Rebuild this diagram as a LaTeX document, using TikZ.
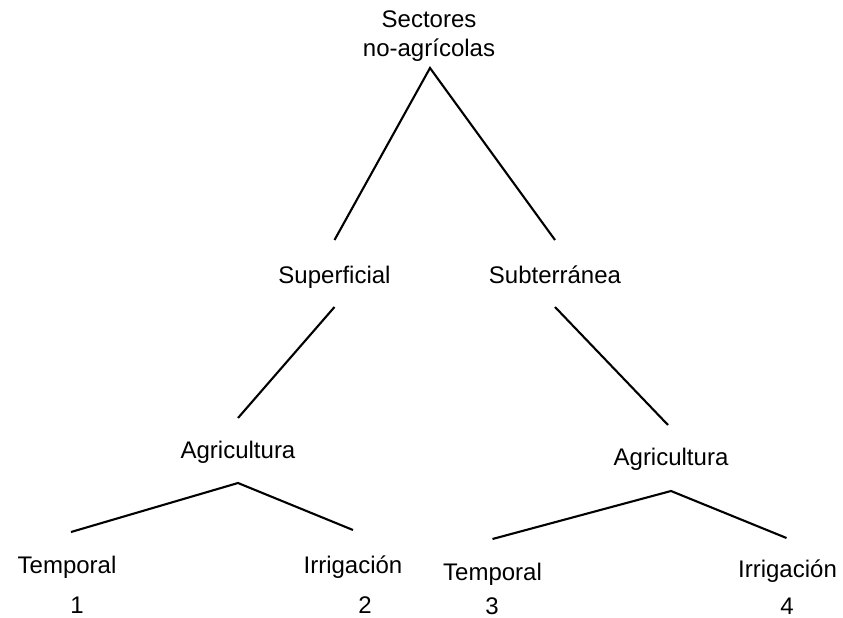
\documentclass[tikz,border=0pt]{standalone}
\usepackage{fontspec}
\setmainfont{Liberation Sans}
\usepackage{tikz}

\begin{document}
\begin{tikzpicture}[x=1pt,y=-1pt,
  lbl/.style={anchor=base,inner sep=0pt,font=\fontsize{24}{29}\selectfont},
  branch/.style={line width=2.1pt}]
\useasboundingbox (0,0) rectangle (843,618);

\node[lbl,align=center] (top) at (429,57) {Sectores\\no-agrícolas};
\node[lbl] (sup) at (334.5,283) {Superficial};
\node[lbl] (sub) at (555,283) {Subterránea};
\node[lbl] (agl) at (238,458) {Agricultura};
\node[lbl] (agr) at (671,465) {Agricultura};
\node[lbl] (tl) at (67,573) {Temporal};
\node[lbl] (il) at (353,573) {Irrigación};
\node[lbl] (tr) at (492.5,580) {Temporal};
\node[lbl] (ir) at (787.5,577) {Irrigación};
\node[lbl] (n1) at (77,613) {1};
\node[lbl] (n2) at (365,613) {2};
\node[lbl] (n3) at (492,614) {3};
\node[lbl] (n4) at (787,614) {4};

\draw[branch] ([yshift=43pt]sup.base)--([xshift=1pt,yshift=-11pt]top.base)--([yshift=43pt]sub.base);
\draw[branch] ([yshift=-24pt]sup.base)--([yshift=40pt]agl.base);
\draw[branch] ([yshift=-24pt]sub.base)--([xshift=-3pt,yshift=40pt]agr.base);
\draw[branch] ([xshift=4pt,yshift=41pt]tl.base)--([yshift=-25pt]agl.base)--([yshift=43pt]il.base);
\draw[branch] ([yshift=41pt]tr.base)--([yshift=-26pt]agr.base)--([xshift=-1pt,yshift=39pt]ir.base);
\end{tikzpicture}
\end{document}
